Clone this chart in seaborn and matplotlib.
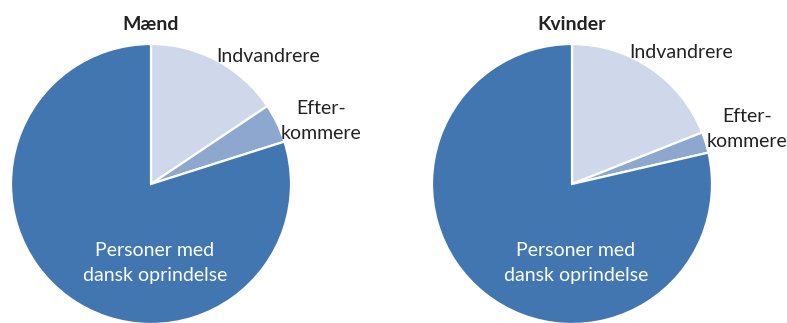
import matplotlib
matplotlib.use("Agg")
import matplotlib.pyplot as plt
import seaborn as sns

sns.set_theme(style="white")
plt.rcParams["font.family"] = ["Lato", "DejaVu Sans"]

# Shares of the population by origin (percent)
groups = ["Personer med dansk oprindelse", "Indvandrere", "Efterkommere"]
maend = [79.9, 15.6, 4.5]
kvinder = [78.6, 19.0, 2.4]
titles = ["Mænd", "Kvinder"]

colors = ["#4276B0", "#CFD8EA", "#8EA7CF"]

W, H = 787, 323
fig = plt.figure(figsize=(W / 100, H / 100), dpi=100)

R = 140
centers = [(151, 184), (572, 184)]
FS = 14


def add_pie(values, title, cx, cy, lab_indv, lab_efter):
    ax = fig.add_axes([(cx - R) / W, (H - cy - R) / H, 2 * R / W, 2 * R / H])
    # slices run clockwise from 12 o'clock: Indvandrere, Efterkommere, dansk
    ordered = [values[1], values[2], values[0]]
    ax.pie(ordered, colors=[colors[1], colors[2], colors[0]], startangle=90,
           counterclock=False, radius=1.0,
           wedgeprops=dict(edgecolor="white", linewidth=1.6))
    ax.set_xlim(-1, 1)
    ax.set_ylim(-1, 1)
    ax.set_aspect("auto")
    ax.axis("off")
    ax.patch.set_alpha(0)

    def px(x, y):
        return ((x - cx) / R, (cy - y) / R)

    ax.text(*px(cx, 25), title, ha="center", va="center", fontsize=14,
            fontweight="bold", color="#222222", clip_on=False)
    ax.text(*px(*lab_indv), groups[1], ha="center", va="center", fontsize=FS,
            color="#222222", clip_on=False)
    ax.text(*px(*lab_efter), "Efter-\nkommere", ha="center", va="center",
            fontsize=FS, color="#222222", linespacing=1.6, clip_on=False)
    ax.text(*px(cx + 4, 263), "Personer med\ndansk oprindelse", ha="center",
            va="center", fontsize=FS, color="white", linespacing=1.55)


add_pie(maend, titles[0], *centers[0], (268, 57), (321, 121))
add_pie(kvinder, titles[1], *centers[1], (681, 52), (747, 129))

fig.savefig("out.png", dpi=100)
